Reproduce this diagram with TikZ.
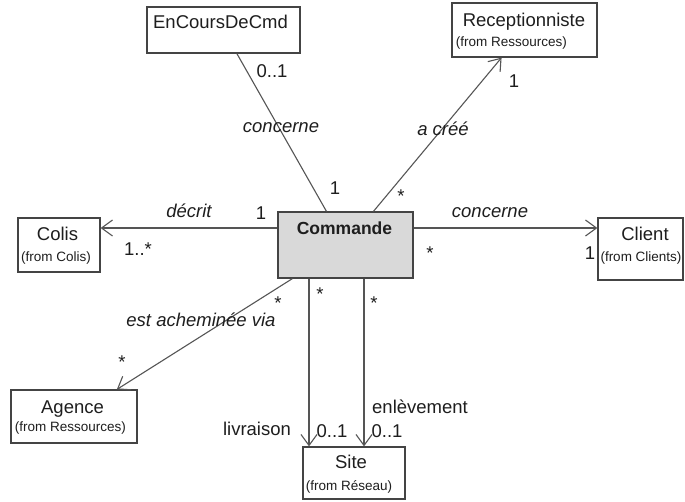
\documentclass[tikz,border=0pt]{standalone}
\usepackage{fontspec}
\setmainfont{Liberation Sans}
\usetikzlibrary{arrows.meta}
\definecolor{linegray}{HTML}{555555}
\definecolor{boxgray}{HTML}{444444}
\definecolor{txt}{HTML}{1E1E1E}
\definecolor{cmdfill}{HTML}{D9D9D9}
% asterisk lowered so that the node box hugs the glyph
\newcommand{\multstar}{\raisebox{-7.9pt}{*}}
\begin{document}
\begin{tikzpicture}[x=1pt,y=-1pt,
  classbox/.style={draw=boxgray, line width=1.2pt, fill=white, inner sep=0pt},
  cname/.style={text=txt, inner sep=0pt, font=\fontsize{18.5}{20}\selectfont, text height=13.3pt, text depth=0pt},
  cbold/.style={cname, font=\fontsize{17.5}{20}\selectfont\bfseries},
  csub/.style={text=txt, inner sep=0pt, font=\fontsize{13.5}{15}\selectfont, text height=9.7pt, text depth=0pt},
  rolelbl/.style={cname},
  assoc/.style={cname, font=\fontsize{18.5}{20}\selectfont\itshape},
  mult/.style={cname},
  star/.style={cname, text height=5.3pt, text depth=0pt},
  conn/.style={draw=linegray, line width=1.1pt},
  nav/.style={conn, -{Straight Barb[length=11pt,width=16pt]}}
]
\path[use as bounding box, fill=white] (0,0) rectangle (685,501);

% class boxes
\node[classbox, minimum width=153pt, minimum height=46pt] (enc) at (223.5,30) {};
\node[classbox, minimum width=145pt, minimum height=54pt] (rec) at (524.5,30) {};
\node[classbox, minimum width=82pt, minimum height=54pt] (colis) at (59,245) {};
\node[classbox, minimum width=85pt, minimum height=62pt] (client) at (640.5,249) {};
\node[classbox, fill=cmdfill, minimum width=135pt, minimum height=66pt] (cmd) at (345.5,245) {};
\node[classbox, minimum width=126pt, minimum height=53pt] (agence) at (74,416.5) {};
\node[classbox, minimum width=102pt, minimum height=52pt] (site) at (354,473) {};

% class names
\node[cname] (encN) at (220.5,21.5) {EnCoursDeCmd};
\node[cname] (recN) at (524,20) {Receptionniste};
\node[csub] (recS) at (511.5,42) {(from Ressources)};
\node[cname] (colisN) at (57.5,233.5) {Colis};
\node[csub] (colisS) at (56,257) {(from Colis)};
\node[cname] (clientN) at (645,233.5) {Client};
\node[csub] (clientS) at (641,257) {(from Clients)};
\node[cbold] (cmdN) at (344.5,227.5) {Commande};
\node[cname] (agenceN) at (72.5,406.5) {Agence};
\node[csub] (agenceS) at (70.5,426.5) {(from Ressources)};
\node[cname] (siteN) at (351,461.5) {Site};
\node[csub] (siteS) at (349,486) {(from Réseau)};

% associations
\draw[conn] (enc) -- (cmd);
\draw[nav] (cmd) -- (rec);
\draw[nav] ([yshift=17pt]cmd.west) -- ([yshift=17pt]colis.east);
\draw[nav] ([yshift=17pt]cmd.east) -- ([yshift=21pt]client.west);
\draw[nav] (cmd) -- (agence);
\draw[nav] ([xshift=-36.5pt]cmd.south) -- ([xshift=-45pt]site.north);
\draw[nav] ([xshift=18.5pt]cmd.south) -- ([xshift=10pt]site.north);

% association names, roles and multiplicities
\node[mult] (m1) at (272,70.5) {0..1};
\node[assoc] (a1) at (281,125.5) {concerne};
\node[mult] (m2) at (335,187.5) {1};
\node[star] (m3) at (401,191.5) {\multstar};
\node[assoc] (a2) at (443,128.5) {a créé};
\node[mult] (m4) at (514,80.5) {1};
\node[assoc] (a3) at (189,210.5) {décrit};
\node[mult] (m5) at (261,213) {1};
\node[mult] (m6) at (138,249) {1..*};
\node[assoc] (a4) at (490,210.5) {concerne};
\node[star] (m7) at (430,249) {\multstar};
\node[mult] (m8) at (590,253) {1};
\node[star] (m9) at (278,298.5) {\multstar};
\node[assoc] (a5) at (201,320) {est acheminée via};
\node[star] (m10) at (122,358) {\multstar};
\node[star] (m11) at (320,290) {\multstar};
\node[star] (m12) at (374,299) {\multstar};
\node[rolelbl] (r1) at (257,429) {livraison};
\node[mult] (m13) at (332,431) {0..1};
\node[rolelbl] (r2) at (420,406.5) {enlèvement};
\node[mult] (m14) at (387,431) {0..1};
\end{tikzpicture}
\end{document}
